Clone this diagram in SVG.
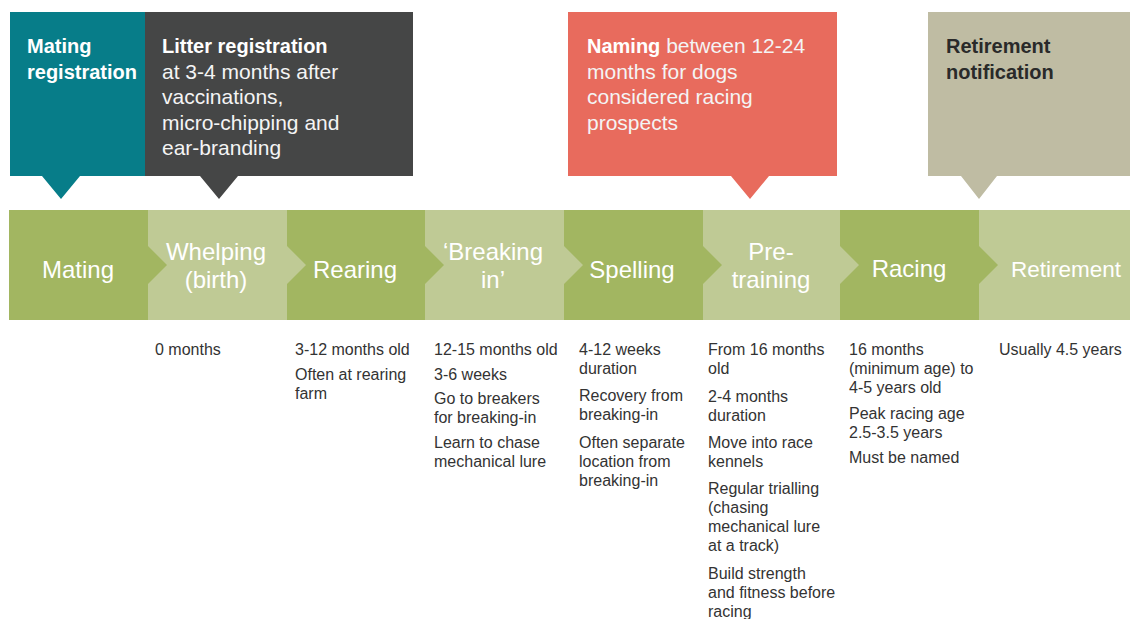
<svg xmlns="http://www.w3.org/2000/svg" width="1130" height="619" viewBox="0 0 1130 619">
<style>
text{font-family:"Liberation Sans",Arial,Helvetica,sans-serif}
.hb{font-size:20px;font-weight:bold;fill:#ffffff}
.hl{font-size:21px;fill:#f4f4f4}
.hd{font-size:20px;font-weight:bold;fill:#2a2a2a}
.band{font-size:24px;fill:#ffffff;text-anchor:middle}
.dk{fill:#a2b661}
.lt{fill:#bfca95}
.d{font-size:16px;fill:#333333}
</style>
<rect width="1130" height="619" fill="#ffffff"/>

<g id="callout-mating-registration">
<path d="M10,12 H145 V176 H80 L61,199 L42,176 H10 Z" fill="#077d89"/>
<text class="hb" x="27" y="53">Mating</text>
<text class="hb" x="27" y="78.5">registration</text>
</g>
<g id="callout-litter-registration">
<path d="M145,12 H413 V176 H238 L219,199 L200,176 H145 Z" fill="#454646"/>
<text class="hb" x="162" y="53">Litter registration</text>
<text class="hl" x="162" y="78.5">at 3-4 months after</text>
<text class="hl" x="162" y="104">vaccinations,</text>
<text class="hl" x="162" y="129.5">micro-chipping and</text>
<text class="hl" x="162" y="155">ear-branding</text>
</g>
<g id="callout-naming">
<path d="M568,12 H837 V176 H769 L750,199 L731,176 H568 Z" fill="#e86b5d"/>
<text x="587" y="53"><tspan class="hb">Naming</tspan><tspan class="hl"> between 12-24</tspan></text>
<text class="hl" x="587" y="78.5">months for dogs</text>
<text class="hl" x="587" y="104">considered racing</text>
<text class="hl" x="587" y="129.5">prospects</text>
</g>
<g id="callout-retirement-notification">
<path d="M928,12 H1130 V176 H997 L979,199 L961,176 H928 Z" fill="#bfbca3"/>
<text class="hd" x="946" y="53">Retirement</text>
<text class="hd" x="946" y="78.5">notification</text>
</g>

<g id="stage-retirement">
<rect class="lt" x="979" y="210" width="151" height="110"/>
<text class="band" x="1066" y="277" style="font-size:22.5px">Retirement</text>
</g>
<g id="stage-racing">
<path class="dk" d="M840,210 H979 V246 L998,265 L979,284 V320 H840 Z"/>
<text class="band" x="909" y="277">Racing</text>
</g>
<g id="stage-pre-training">
<path class="lt" d="M703,210 H840 V246 L859,265 L840,284 V320 H703 Z"/>
<text class="band" x="771" y="260">Pre-</text>
<text class="band" x="771" y="288">training</text>
</g>
<g id="stage-spelling">
<path class="dk" d="M564,210 H703 V246 L722,265 L703,284 V320 H564 Z"/>
<text class="band" x="632" y="278">Spelling</text>
</g>
<g id="stage-breaking-in">
<path class="lt" d="M425,210 H564 V246 L583,265 L564,284 V320 H425 Z"/>
<text class="band" x="493" y="260">‘Breaking</text>
<text class="band" x="493" y="288">in’</text>
</g>
<g id="stage-rearing">
<path class="dk" d="M287,210 H425 V246 L444,265 L425,284 V320 H287 Z"/>
<text class="band" x="355" y="278">Rearing</text>
</g>
<g id="stage-whelping">
<path class="lt" d="M148,210 H287 V246 L306,265 L287,284 V320 H148 Z"/>
<text class="band" x="216" y="260">Whelping</text>
<text class="band" x="216" y="288">(birth)</text>
</g>
<g id="stage-mating">
<path class="dk" d="M9,210 H148 V246 L167,265 L148,284 V320 H9 Z"/>
<text class="band" x="78" y="278">Mating</text>
</g>

<g id="connectors"></g>

<g id="details-whelping">
<text class="d" x="155" y="355">0 months</text>
</g>
<g id="details-rearing">
<text class="d" x="295" y="355">3-12 months old</text>
<text class="d" x="295" y="380">Often at rearing</text>
<text class="d" x="295" y="399">farm</text>
</g>
<g id="details-breaking-in">
<text class="d" x="434" y="355">12-15 months old</text>
<text class="d" x="434" y="380">3-6 weeks</text>
<text class="d" x="434" y="404">Go to breakers</text>
<text class="d" x="434" y="423">for breaking-in</text>
<text class="d" x="434" y="448">Learn to chase</text>
<text class="d" x="434" y="467">mechanical lure</text>
</g>
<g id="details-spelling">
<text class="d" x="579" y="355">4-12 weeks</text>
<text class="d" x="579" y="374">duration</text>
<text class="d" x="579" y="401">Recovery from</text>
<text class="d" x="579" y="420">breaking-in</text>
<text class="d" x="579" y="448">Often separate</text>
<text class="d" x="579" y="467">location from</text>
<text class="d" x="579" y="486">breaking-in</text>
</g>
<g id="details-pre-training">
<text class="d" x="708" y="355">From 16 months</text>
<text class="d" x="708" y="374">old</text>
<text class="d" x="708" y="402">2-4 months</text>
<text class="d" x="708" y="421">duration</text>
<text class="d" x="708" y="448">Move into race</text>
<text class="d" x="708" y="467">kennels</text>
<text class="d" x="708" y="494">Regular trialling</text>
<text class="d" x="708" y="513">(chasing</text>
<text class="d" x="708" y="532">mechanical lure</text>
<text class="d" x="708" y="551">at a track)</text>
<text class="d" x="708" y="579">Build strength</text>
<text class="d" x="708" y="598">and fitness before</text>
<text class="d" x="708" y="617">racing</text>
</g>
<g id="details-racing">
<text class="d" x="849" y="355">16 months</text>
<text class="d" x="849" y="374">(minimum age) to</text>
<text class="d" x="849" y="393">4-5 years old</text>
<text class="d" x="849" y="419">Peak racing age</text>
<text class="d" x="849" y="438">2.5-3.5 years</text>
<text class="d" x="849" y="463">Must be named</text>
</g>
<g id="details-retirement">
<text class="d" x="999" y="355">Usually 4.5 years</text>
</g>
</svg>
